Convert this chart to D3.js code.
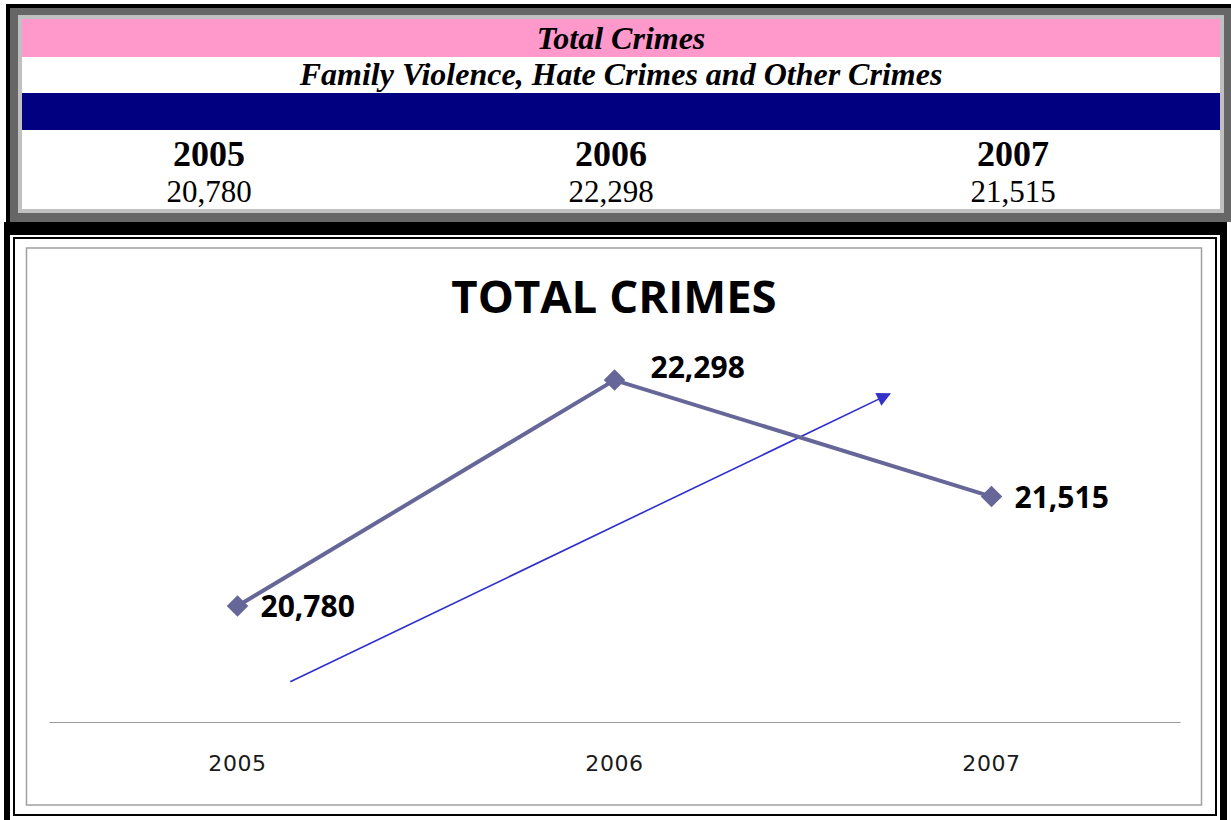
<!DOCTYPE html>
<html>
<head>
<meta charset="utf-8">
<script src="https://cdn.jsdelivr.net/npm/d3@7"></script>
<style>
  body { margin: 0; background: #fff; }
  svg { display: block; }
</style>
</head>
<body>
<script>
var W = 1231, H = 820;

// data
var years = ["2005", "2006", "2007"];
var totals = [20780, 22298, 21515];
var tableTitle = "Total Crimes";
var tableSubtitle = "Family Violence, Hate Crimes and Other Crimes";
var chartTitle = "TOTAL CRIMES";
// hand-drawn trend arrow, in chart units: [category position, value]
var arrowFrom = [0.14, 20270];
var arrowTo = [1.73, 22205];

var fmt = d3.format(",");

var svg = d3.select("body").append("svg")
    .attr("width", W)
    .attr("height", H);

// ---------- top table ----------
var tbl = svg.append("g");
tbl.append("rect").attr("x", 6).attr("y", 4).attr("width", W - 6).attr("height", 218).attr("fill", "#000");
tbl.append("rect").attr("x", 10).attr("y", 8).attr("width", W - 10).attr("height", 214).attr("fill", "#666");
tbl.append("rect").attr("x", 18).attr("y", 15).attr("width", 1206).attr("height", 198).attr("fill", "#c0c0c0");
tbl.append("rect").attr("x", 22).attr("y", 19).attr("width", 1198).attr("height", 190).attr("fill", "#fff");
tbl.append("rect").attr("x", 22).attr("y", 19).attr("width", 1198).attr("height", 38).attr("fill", "#ff99cc");
tbl.append("rect").attr("x", 22).attr("y", 93).attr("width", 1198).attr("height", 37).attr("fill", "#000080");

tbl.append("text")
    .attr("x", 621).attr("y", 49)
    .attr("text-anchor", "middle")
    .style("font-family", "'Liberation Serif', 'Times New Roman', serif")
    .style("font-size", "32px").style("font-weight", "bold").style("font-style", "italic")
    .text(tableTitle);

tbl.append("text")
    .attr("x", 621).attr("y", 85)
    .attr("text-anchor", "middle")
    .style("font-family", "'Liberation Serif', 'Times New Roman', serif")
    .style("font-size", "32px").style("font-weight", "bold").style("font-style", "italic")
    .text(tableSubtitle);

var colScale = d3.scaleBand()
    .domain(years)
    .range([8, 1214]);

tbl.selectAll(".tyear")
    .data(years)
    .enter()
    .append("text")
    .attr("class", "tyear")
    .attr("x", function (d) { return colScale(d) + colScale.bandwidth() / 2; })
    .attr("y", 166)
    .attr("text-anchor", "middle")
    .style("font-family", "'Liberation Serif', 'Times New Roman', serif")
    .style("font-size", "36px").style("font-weight", "bold")
    .text(function (d) { return d; });

tbl.selectAll(".tval")
    .data(totals)
    .enter()
    .append("text")
    .attr("class", "tval")
    .attr("x", function (d, i) { return colScale(years[i]) + colScale.bandwidth() / 2; })
    .attr("y", 202)
    .attr("text-anchor", "middle")
    .style("font-family", "'Liberation Serif', 'Times New Roman', serif")
    .style("font-size", "31px")
    .text(function (d) { return fmt(d); });

// ---------- chart frame ----------
var frame = svg.append("g");
frame.append("rect").attr("x", 4).attr("y", 222).attr("width", 1223).attr("height", H - 222).attr("fill", "#000");
frame.append("rect").attr("x", 10).attr("y", 235).attr("width", 1210).attr("height", H - 235).attr("fill", "#fff");
frame.append("rect").attr("x", 14).attr("y", 238).attr("width", 1202).attr("height", 577)
    .attr("fill", "none").attr("stroke", "#000").attr("stroke-width", 2);
frame.append("rect").attr("x", 26.5).attr("y", 248).attr("width", 1175).attr("height", 557)
    .attr("fill", "#fff").attr("stroke", "#a0a0a0").attr("stroke-width", 1.5);

// ---------- chart ----------
var chart = svg.append("g");

chart.append("text")
    .attr("x", 614).attr("y", 313)
    .attr("text-anchor", "middle")
    .style("font-family", "'Open Sans', sans-serif")
    .style("font-size", "45.5px").style("font-weight", "bold")
    .text(chartTitle);

var xScale = d3.scaleBand()
    .domain(years)
    .range([49, 1180]);

var yScale = d3.scaleLinear()
    .domain([20000, 22500])
    .range([722, 350]);

function cx(i) { return xScale(years[i]) + xScale.bandwidth() / 2; }

// category position -> pixel, for the annotation arrow
var xPos = d3.scaleLinear()
    .domain([0, years.length - 1])
    .range([cx(0), cx(years.length - 1)]);

var xAxis = d3.axisBottom(xScale).tickSize(0).tickPadding(0);

var ax = chart.append("g")
    .attr("transform", "translate(0,722)")
    .call(xAxis);
ax.select(".domain").attr("stroke", "#999").attr("stroke-width", 1.2);
ax.selectAll("text")
    .attr("y", 49).attr("dy", null)
    .attr("fill", "#1a1a1a")
    .style("font-family", "'DejaVu Sans', sans-serif")
    .style("font-size", "22px")
    .style("letter-spacing", "0.6px");

// trend arrow
var defs = svg.append("defs");
defs.append("marker")
    .attr("id", "arrowhead")
    .attr("viewBox", "0 0 10 10")
    .attr("refX", 9).attr("refY", 5)
    .attr("markerWidth", 18).attr("markerHeight", 14)
    .attr("markerUnits", "userSpaceOnUse")
    .attr("orient", "auto")
    .append("path")
    .attr("d", "M0,0 L10,5 L0,10 Z")
    .attr("fill", "#3333cc");

chart.append("line")
    .attr("x1", xPos(arrowFrom[0])).attr("y1", yScale(arrowFrom[1]))
    .attr("x2", xPos(arrowTo[0])).attr("y2", yScale(arrowTo[1]))
    .attr("stroke", "#2f2fd0")
    .attr("stroke-width", 1.6)
    .attr("marker-end", "url(#arrowhead)");

// data line
var line = d3.line()
    .x(function (d, i) { return cx(i); })
    .y(function (d) { return yScale(d); });

chart.append("path")
    .datum(totals)
    .attr("d", line)
    .attr("fill", "none")
    .attr("stroke", "#666699")
    .attr("stroke-width", 4);

var diamond = d3.symbol().type(d3.symbolSquare).size(230);
chart.selectAll(".pt")
    .data(totals)
    .enter()
    .append("path")
    .attr("class", "pt")
    .attr("d", diamond)
    .attr("transform", function (d, i) { return "translate(" + cx(i) + "," + yScale(d) + ") rotate(45)"; })
    .attr("fill", "#666699");

var maxVal = d3.max(totals);
chart.selectAll(".lbl")
    .data(totals)
    .enter()
    .append("text")
    .attr("class", "lbl")
    .attr("x", function (d, i) { return cx(i) + (d === maxVal ? 36 : 23); })
    .attr("y", function (d) { return yScale(d) + (d === maxVal ? -2 : 11); })
    .style("font-family", "'Open Sans', sans-serif")
    .style("font-size", "30px").style("font-weight", "bold")
    .attr("fill", "#000")
    .text(function (d) { return fmt(d); });
</script>
</body>
</html>
